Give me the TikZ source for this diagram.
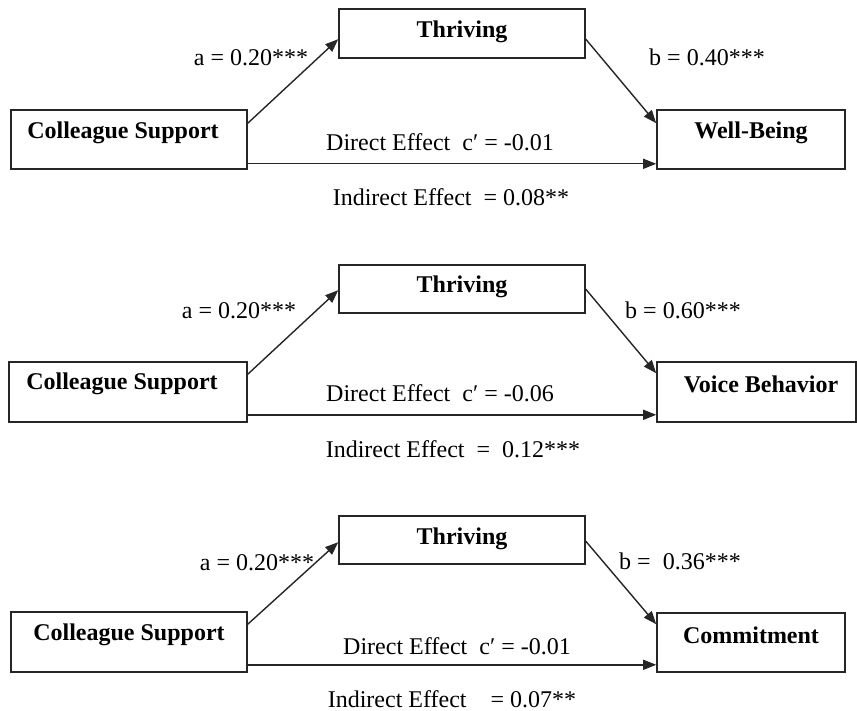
\documentclass[tikz,border=0pt]{standalone}
\usepackage{fontspec}
\setmainfont{Liberation Serif}
\usetikzlibrary{arrows.meta}
\begin{document}
\begin{tikzpicture}[x=1pt,y=-1pt,
  box/.style={draw=black!85, line width=1.6pt, rectangle, inner sep=0pt},
  title/.style={font=\fontsize{24}{28}\selectfont\bfseries, inner sep=0pt},
  lbl/.style={font=\fontsize{24}{28}\selectfont, inner sep=0pt},
  arr/.style={draw=black!85, line width=1.4pt, -{Triangle[length=13pt,width=10pt]}}]
\useasboundingbox[fill=white] (0,0) rectangle (857,711);

% ---------- Panel 1 ----------
\node[box, minimum width=236pt, minimum height=59pt] (cs1) at (129,139.5) {};
\node[box, minimum width=246pt, minimum height=49pt] (th1) at (462,33.5) {};
\node[box, minimum width=188pt, minimum height=59pt] (wb1) at (751,139.5) {};
\node[title] (cs1t) at (123,133) {Colleague Support};
\node[title] (th1t) at (462,32) {Thriving};
\node[title] (wb1t) at (751,133) {Well-Being};
\draw[arr] ([yshift=-14pt]cs1.north east) -- ([yshift=-31pt]th1.north west);
\draw[arr] ([yshift=-31pt]th1.north east) -- ([yshift=-14pt]wb1.north west);
\draw[arr] ([yshift=6pt]cs1.south east) -- ([yshift=6pt]wb1.south west);
\node[lbl] (a1) at (251,58) {a = 0.20***};
\node[lbl] (b1) at (707,57) {b = 0.40***};
\node[lbl] (d1) at (440,142) {Direct Effect\ \ c′ = -0.01};
\node[lbl] (i1) at (451,197) {Indirect Effect\ \ = 0.08**};

% ---------- Panel 2 ----------
\node[box, minimum width=238pt, minimum height=60pt] (cs2) at (128,392) {};
\node[box, minimum width=246pt, minimum height=48pt] (th2) at (462,289) {};
\node[box, minimum width=199pt, minimum height=60pt] (wb2) at (756.5,392) {};
\node[title] (cs2t) at (122,384) {Colleague Support};
\node[title] (th2t) at (462,287) {Thriving};
\node[title] (wb2t) at (761,384) {Voice Behavior};
\draw[arr] ([yshift=-13pt]cs2.north east) -- ([yshift=-26pt]th2.north west);
\draw[arr] ([yshift=-25pt]th2.north east) -- ([yshift=-12pt]wb2.north west);
\draw[arr] ([yshift=8pt]cs2.south east) -- ([yshift=8pt]wb2.south west);
\node[lbl] (a2) at (239,311) {a = 0.20***};
\node[lbl] (b2) at (683,310) {b = 0.60***};
\node[lbl] (d2) at (440,393) {Direct Effect\ \ c′ = -0.06};
\node[lbl] (i2) at (453,449) {Indirect Effect\ \ =\ \ 0.12***};

% ---------- Panel 3 ----------
\node[box, minimum width=236pt, minimum height=60pt] (cs3) at (129,642) {};
\node[box, minimum width=246pt, minimum height=48pt] (th3) at (462,540) {};
\node[box, minimum width=188pt, minimum height=59pt] (wb3) at (751,642.5) {};
\node[title] (cs3t) at (129,635) {Colleague Support};
\node[title] (th3t) at (462,539) {Thriving};
\node[title] (wb3t) at (751,635) {Commitment};
\draw[arr] ([yshift=-13pt]cs3.north east) -- ([yshift=-27pt]th3.north west);
\draw[arr] ([yshift=-26pt]th3.north east) -- ([yshift=-12pt]wb3.north west);
\draw[arr] ([yshift=8pt]cs3.south east) -- ([yshift=8pt]wb3.south west);
\node[lbl] (a3) at (257,563) {a = 0.20***};
\node[lbl] (b3) at (680,561) {b =\ \ 0.36***};
\node[lbl] (d3) at (457,646) {Direct Effect\ \ c′ = -0.01};
\node[lbl] (i3) at (452,699) {Indirect Effect\ \ \ \ = 0.07**};
\end{tikzpicture}
\end{document}
